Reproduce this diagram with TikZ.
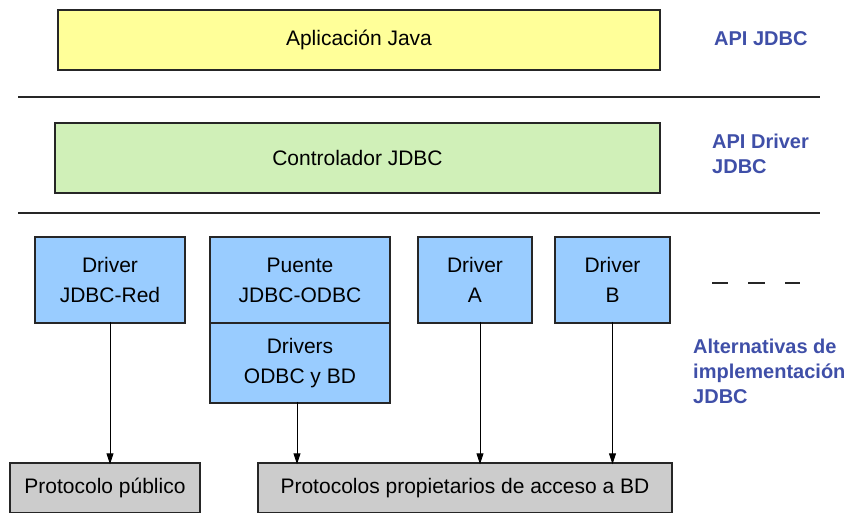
\documentclass[tikz,border=0pt]{standalone}
\usepackage{fontspec}
\setmainfont{Liberation Sans}
\usetikzlibrary{arrows.meta}
\definecolor{cyel}{HTML}{FFFF99}
\definecolor{cgrn}{HTML}{D0F0B8}
\definecolor{cblu}{HTML}{99CCFF}
\definecolor{cgry}{HTML}{CCCCCC}
\definecolor{clab}{HTML}{3F4FA8}
\tikzset{
  boxs/.style={draw=black!85, line width=2.6pt, inner sep=0pt, outer sep=0pt, align=center, font=\fontsize{21}{30}\selectfont},
  sep/.style={line width=2.6pt, black!85},
  arr/.style={-{Triangle[length=11pt,width=7pt]}, line width=0.9pt},
  lab/.style={text=clab, font=\bfseries\fontsize{20}{25}\selectfont, align=left, anchor=north west, inner sep=0pt},
}
\begin{document}
\begin{tikzpicture}[x=1pt,y=-1pt]
\useasboundingbox (0,0) rectangle (863,513);
% top boxes
\node[boxs, fill=cyel, minimum width=602pt, minimum height=60pt] (app) at (359,40) {Aplicación Java};
\node[boxs, fill=cgrn, minimum width=605pt, minimum height=70pt] (ctl) at (357.5,158) {Controlador JDBC};
\coordinate (l1a) at (18,97); \coordinate (l1b) at (820,97);
\coordinate (l2a) at (18,213); \coordinate (l2b) at (820,213);
\draw[sep] (l1a) -- (l1b);
\draw[sep] (l2a) -- (l2b);
% drivers
\node[boxs, fill=cblu, minimum width=150pt, minimum height=86pt] (red) at (110,280) {Driver\\JDBC-Red};
\node[boxs, fill=cblu, minimum width=180pt, minimum height=86pt] (pte) at (300,280) {Puente\\JDBC-ODBC};
\node[boxs, fill=cblu, minimum width=180pt, minimum height=80pt, anchor=north] (odbc) at (pte.south) {Drivers\\ODBC y BD};
\node[boxs, fill=cblu, minimum width=114pt, minimum height=86pt] (da) at (475,280) {Driver\\A};
\node[boxs, fill=cblu, minimum width=115pt, minimum height=86pt] (db) at (612.5,280) {Driver\\B};
% dashes
\coordinate (d1) at (712,283); \coordinate (d2) at (728,283);
\coordinate (d3) at (748,283); \coordinate (d4) at (765,283);
\coordinate (d5) at (785,283); \coordinate (d6) at (800,283);
\draw[sep] (d1) -- (d2); \draw[sep] (d3) -- (d4); \draw[sep] (d5) -- (d6);
% protocols
\node[boxs, fill=cgry, minimum width=190pt, minimum height=50pt] (pub) at (105,488) {Protocolo público};
\node[boxs, fill=cgry, minimum width=414pt, minimum height=50pt] (prop) at (465,488) {Protocolos propietarios de acceso a BD};
% arrows
\draw[arr] ([yshift=1.3pt]red.south) -- ([yshift=-1.3pt]red.south |- pub.north);
\draw[arr] ([xshift=-3pt,yshift=1.3pt]odbc.south) -- ([xshift=-3pt,yshift=-1.3pt]odbc.south |- prop.north);
\draw[arr] ([xshift=5pt,yshift=1.3pt]da.south) -- ([xshift=5pt,yshift=-1.3pt]da.south |- prop.north);
\draw[arr] ([yshift=1.3pt]db.south) -- ([yshift=-1.3pt]db.south |- prop.north);
% labels
\node[lab] (t1) at (714,31) {API JDBC};
\node[lab] (t2) at (712,134) {API Driver\\JDBC};
\node[lab] (t3) at (693,339) {Alternativas de\\implementación\\JDBC};
\end{tikzpicture}
\end{document}
